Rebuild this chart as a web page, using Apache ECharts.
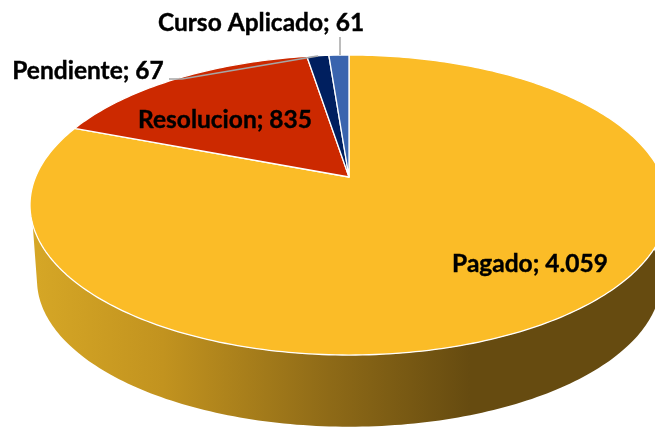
<!DOCTYPE html>
<html>
<head>
<meta charset="utf-8">
<style>
html, body { margin: 0; padding: 0; background: #fff; overflow: hidden; }
#main { width: 655px; height: 427px; }
</style>
<script src="https://cdn.jsdelivr.net/npm/echarts@6/dist/echarts.min.js"></script>
</head>
<body>
<div id="main"></div>
<script>
var categories = ['Pagado', 'Resolucion', 'Pendiente', 'Curso Aplicado'];
var values = [4059, 835, 67, 61];
var valueLabels = ['4.059', '835', '67', '61'];

var colors = ['#FBBC27', '#CC2900', '#001F5F', '#3A64AE'];
var labelCenters = [[530, 264.5], [225, 120.5], [88, 71.5], [261, 23.5]];
var leaderLines = [null, null, [[169, 79], [182, 79], [318, 56]], [[340, 37], [340, 55]]];

// perspective of the tilted disc: top face and the lower rim
var topFace = { x: 349, y: 177, a: 144.8, d: 313.4 };
var bottomFace = { x: 349, y: 252.6, a: 141.6, d: 306.5 };
var tilt = -0.1867;

var total = values.reduce(function (s, v) { return s + v; }, 0);

function project(face, deg) {
  var t = deg * Math.PI / 180;
  var u = Math.sin(t);
  var v = -Math.cos(t);
  var k = 1 + tilt * v;
  return [face.x + face.d * u / k, face.y + face.a * v / k];
}

function arcPoints(face, from, to) {
  var pts = [];
  var step = from < to ? 1 : -1;
  var n = Math.ceil(Math.abs(to - from));
  for (var i = 0; i < n; i++) {
    pts.push(project(face, from + step * i));
  }
  pts.push(project(face, to));
  return pts;
}

function renderItem(params, api) {
  var idx = api.value(0);
  var start = 0;
  for (var i = 0; i < idx; i++) start += values[i];
  var from = start / total * 360;
  var to = (start + api.value(1)) / total * 360;
  var children = [];

  // only the big slice shows a side wall here
  if (idx === 0) {
    var wall = arcPoints(topFace, 85, 252).concat(arcPoints(bottomFace, 258, 85));
    children.push({
      type: 'polygon',
      shape: { points: wall },
      style: {
        fill: new echarts.graphic.LinearGradient(31, 0, 470, 0, [
          { offset: 0, color: '#D6A726' },
          { offset: 0.3, color: '#C2931F' },
          { offset: 0.68, color: '#8E6A17' },
          { offset: 1, color: '#664B10' }
        ], true)
      }
    });
  }

  children.push({
    type: 'polygon',
    shape: { points: [[topFace.x, topFace.y]].concat(arcPoints(topFace, from, to)) },
    style: { fill: colors[idx], stroke: '#fff', lineWidth: 1.3, lineJoin: 'round' }
  });

  if (leaderLines[idx]) {
    children.push({
      type: 'polyline',
      shape: { points: leaderLines[idx] },
      style: { fill: null, stroke: '#A6A6A6', lineWidth: 1.5 }
    });
  }

  children.push({
    type: 'text',
    style: {
      x: labelCenters[idx][0],
      y: labelCenters[idx][1],
      text: categories[idx] + '; ' + valueLabels[idx],
      fill: '#000',
      stroke: '#000',
      lineWidth: 0.4,
      font: 'bold 24.5px Lato',
      align: 'center',
      verticalAlign: 'middle'
    }
  });

  return { type: 'group', children: children };
}

var myChart = echarts.init(document.getElementById('main'));
myChart.setOption({
  animation: false,
  backgroundColor: '#fff',
  series: [{
    type: 'custom',
    coordinateSystem: 'none',
    silent: true,
    clip: false,
    renderItem: renderItem,
    data: values.map(function (v, i) { return [i, v]; })
  }]
});
</script>
</body>
</html>
